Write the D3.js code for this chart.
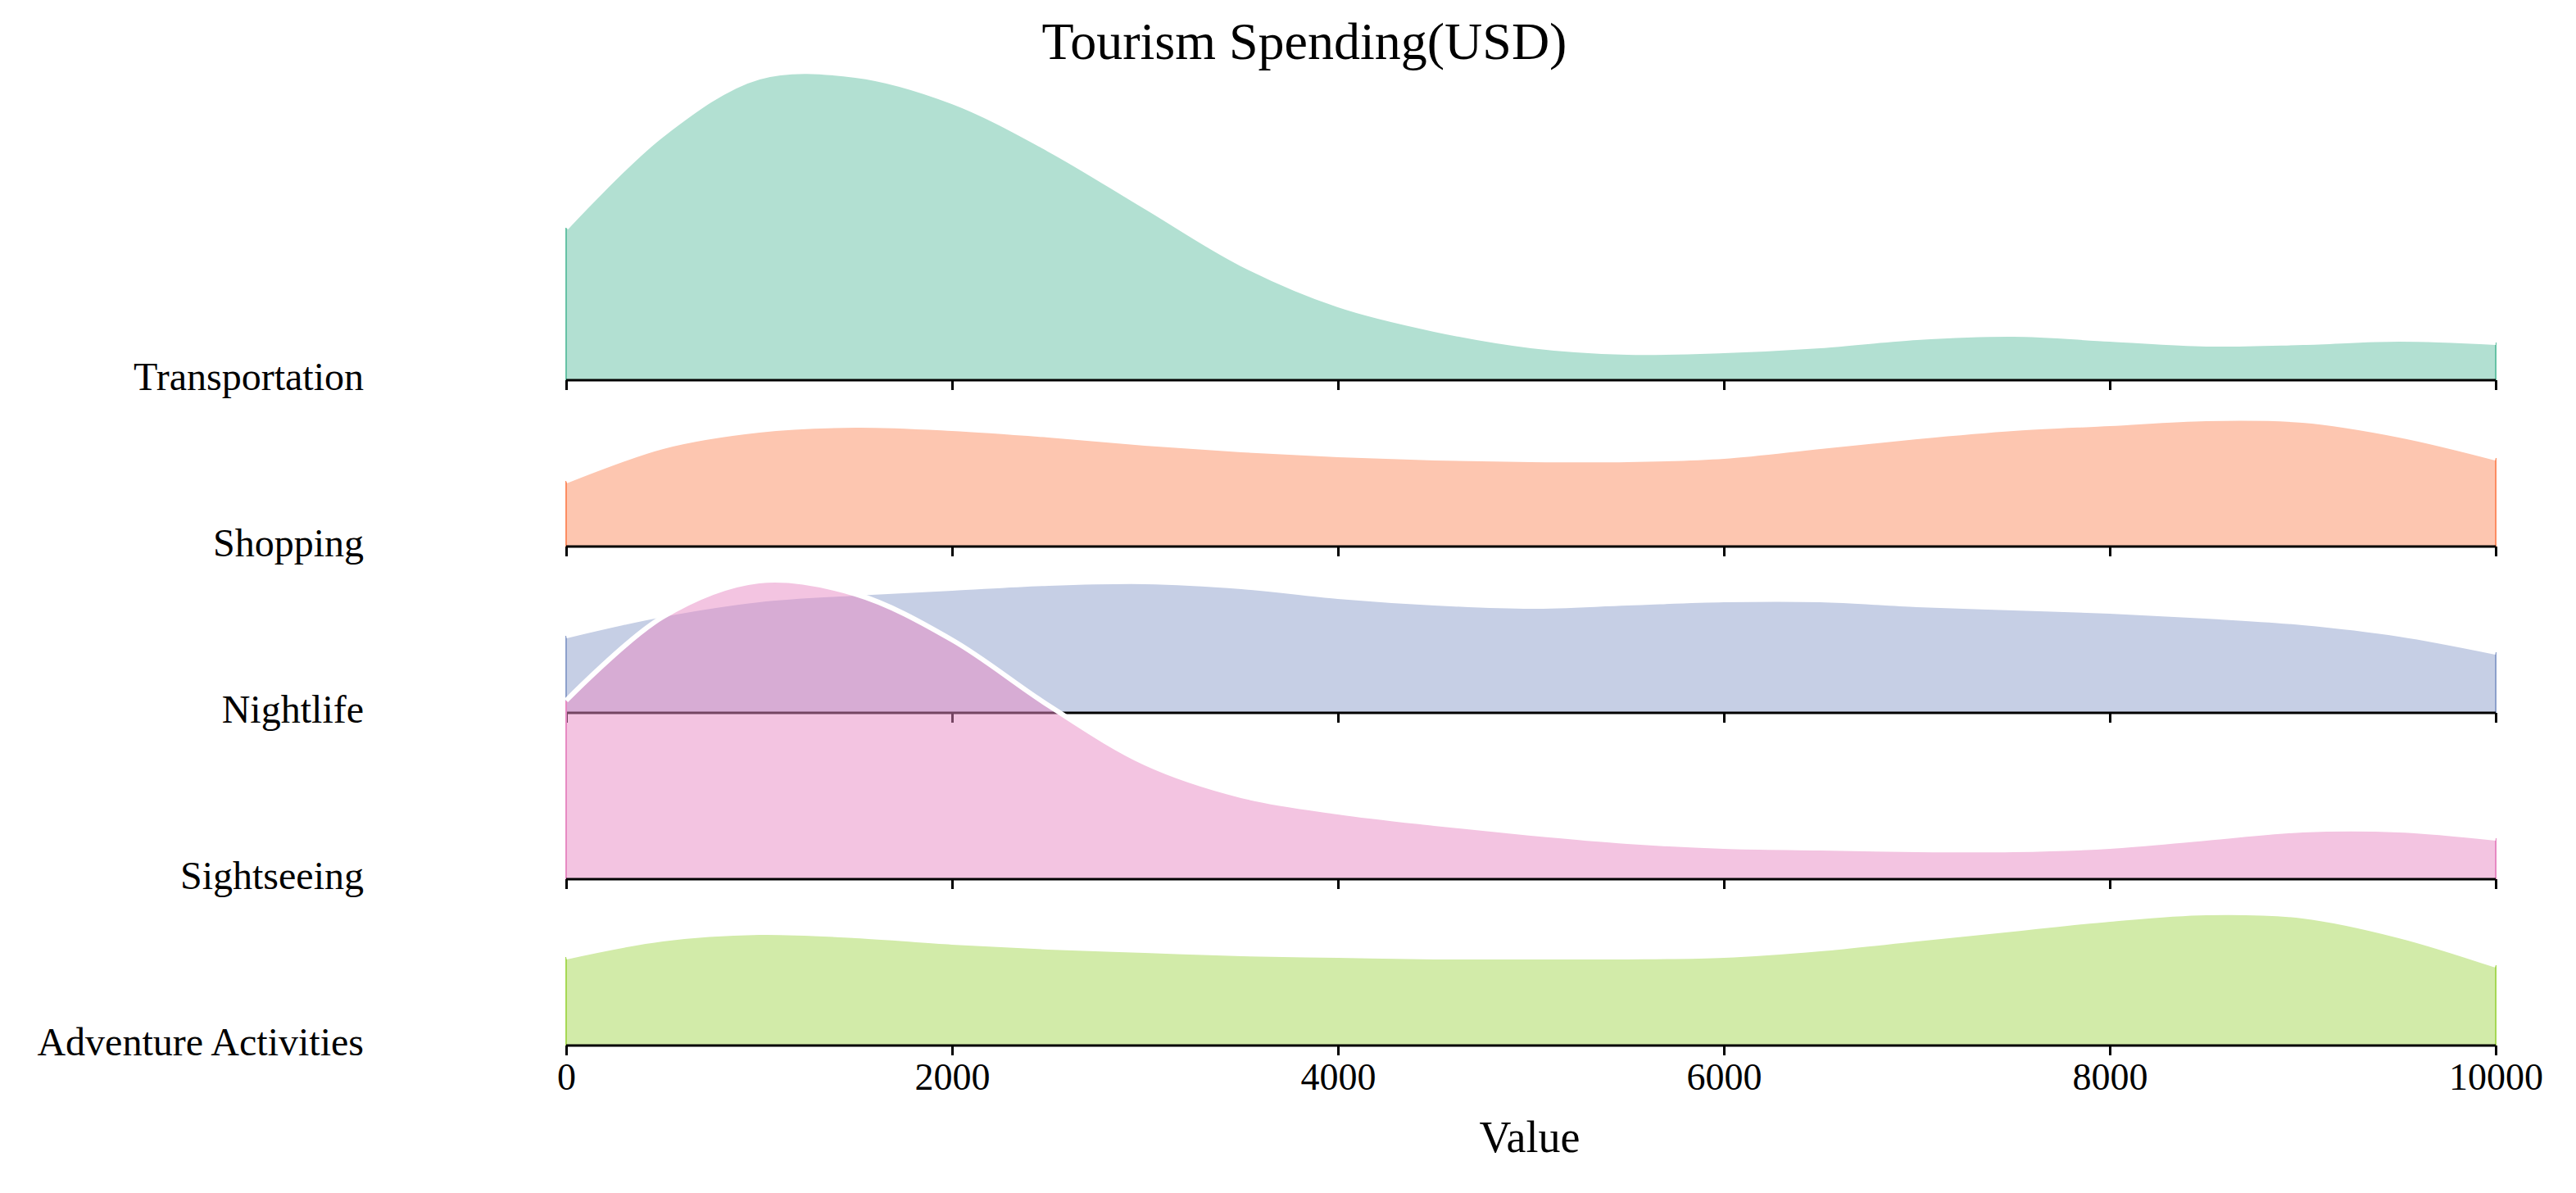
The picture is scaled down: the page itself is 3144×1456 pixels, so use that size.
<!DOCTYPE html>
<html><head><meta charset="utf-8">
<script src="https://cdn.jsdelivr.net/npm/d3@7"></script>
<style>body{margin:0;background:#fff}</style></head>
<body><svg id="c" width="3144" height="1456"></svg>
<script>
const categories = ["Transportation","Shopping","Nightlife","Sightseeing","Adventure Activities"];
const colors = ["#66c2a5","#fc8d62","#8da0cb","#e78ac3","#a6d854"];
const xs = [0,500,1000,1500,2000,2500,3000,3500,4000,4500,5000,5500,6000,6500,7000,7500,8000,8500,9000,9500,10000];
const transportation = [93,150,185,186,170,141,106,71,46,31,21,17,18,21,26,28,25,22,23,25,23];
const shopping = [40,61,71,74,72,68,63,59,56,54,53,53,55,61,67,72,75,78,77,68,54];
const nightlife = [47,60,69,73,76,79,80,77,71,67,65,67,69,69,66,64,62,59,55,48,37];
const sightseeing = [109,160,182,174,146,106,71,51,41,34,28,23,20,19,18,18,20,25,30,30,25];
const adventure = [54,65,69,67,63,60,58,56,55,54,54,54,55,59,65,71,77,81,79,67,49];
const series = [transportation,shopping,nightlife,sightseeing,adventure];
const ticks = [0,2000,4000,6000,8000,10000];

const svg = d3.select("#c");
const font = "'Liberation Serif','Times New Roman',serif";
const x = d3.scaleLinear().domain([0,10000]).range([691,3046]);
const h = d3.scaleLinear().domain([0,100]).range([0,200]);
const rowY = d3.scalePoint().domain(categories).range([464,1276]);
const curve = d3.curveCatmullRom.alpha(0.5);

svg.append("text").attr("x",1592).attr("y",72).attr("text-anchor","middle")
  .attr("font-family",font).attr("font-size",64).text("Tourism Spending(USD)");

categories.forEach((c,i)=>{
  const base = rowY(c);
  const pts = xs.map((v,j)=>[v,series[i][j]]);
  const area = d3.area().x(d=>x(d[0])).y0(base).y1(d=>base-h(d[1])).curve(curve);
  const line = d3.line().x(d=>x(d[0])).y(d=>base-h(d[1])).curve(curve);
  const g = svg.append("g");
  g.append("path").attr("d",area(pts)).attr("fill",colors[i]).attr("fill-opacity",0.5);
  g.append("line").attr("x1",x(0)).attr("x2",x(0)).attr("y1",base).attr("y2",base-h(series[i][0]))
    .attr("stroke",colors[i]).attr("stroke-width",2);
  g.append("line").attr("x1",x(10000)).attr("x2",x(10000)).attr("y1",base).attr("y2",base-h(series[i][series[i].length-1]))
    .attr("stroke",colors[i]).attr("stroke-width",2);
  g.append("path").attr("d",line(pts)).attr("fill","none").attr("stroke","#fff").attr("stroke-width",6);
  const ax = g.append("g").attr("transform",`translate(0,${base})`)
    .call(d3.axisBottom(x).tickValues(ticks).tickSize(12).tickFormat(i===4?d3.format("d"):""));
  ax.select(".domain").attr("stroke","#000").attr("stroke-width",3).attr("d",`M${x(0)},0H${x(10000)}`);
  ax.selectAll(".tick line").attr("stroke","#000").attr("stroke-width",3);
  ax.selectAll(".tick text").attr("font-family",font).attr("font-size",46).attr("dy","0.85em").attr("fill","#000");
  svg.append("text").attr("x",444).attr("y",base+12).attr("text-anchor","end")
    .attr("font-family",font).attr("font-size",48).text(c);
});
svg.append("text").attr("x",1867).attr("y",1406).attr("text-anchor","middle")
  .attr("font-family",font).attr("font-size",54).text("Value");
</script></body></html>
